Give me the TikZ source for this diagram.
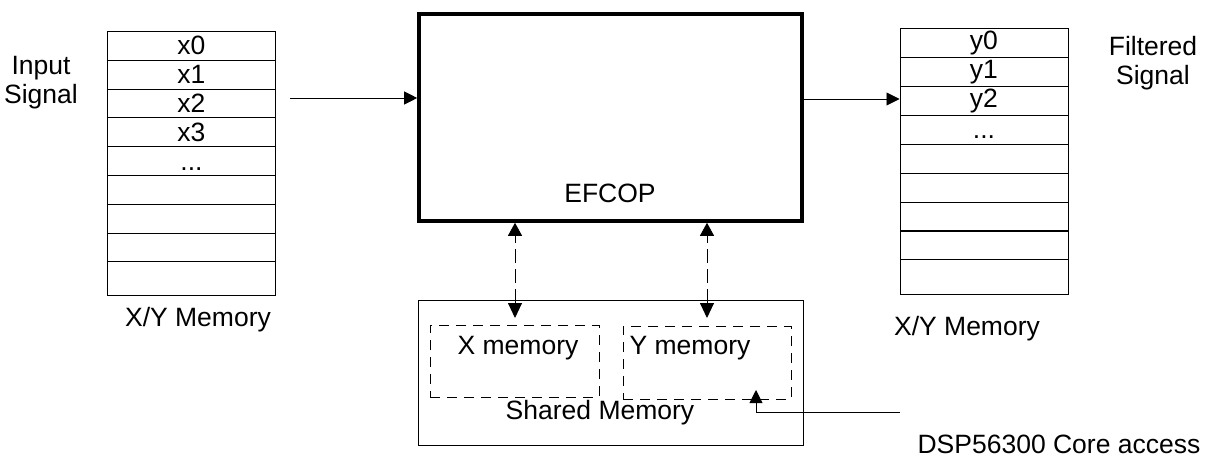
\documentclass[tikz,border=0pt]{standalone}
\usepackage{fontspec}
\setmainfont{Liberation Sans}
\usetikzlibrary{arrows.meta}
\begin{document}
\begin{tikzpicture}[x=1pt,y=-1pt,
  every node/.style={font=\fontsize{26.5}{29}\selectfont},
  cell/.style={draw, line width=0.9pt, rectangle, anchor=north west, inner sep=0pt,
    minimum width=168pt, minimum height=28.8pt, execute at begin node=\vphantom{x0}},
  lastcell/.style={cell, minimum height=34pt},
  txt/.style={inner sep=0pt},
  efbox/.style={draw, line width=3.6pt, rectangle, minimum width=383pt, minimum height=207pt, inner sep=0pt},
  shbox/.style={draw, line width=0.9pt, rectangle, minimum width=385pt, minimum height=145pt, inner sep=0pt},
  dbox/.style={draw, line width=0.9pt, dash pattern=on 10pt off 7pt, rectangle, inner sep=0pt},
  sarrow/.style={line width=0.9pt, -{Triangle[length=13pt,width=13pt]}},
  darrow/.style={line width=0.9pt, dash pattern=on 14pt off 6pt, {Triangle[length=15pt,width=14pt]}-{Triangle[length=13pt,width=14pt]}}
]
\path[use as bounding box] (0,0) rectangle (1205,457);

% left memory
\node[cell] (lm1) at (107,31) {x0};
\node[cell] (lm2) at (107,59.8) {x1};
\node[cell] (lm3) at (107,88.6) {x2};
\node[cell] (lm4) at (107,117.4) {x3};
\node[cell] (lm5) at (107,146.2) {...};
\node[cell] (lm6) at (107,175) {};
\node[cell] (lm7) at (107,203.8) {};
\node[cell] (lm8) at (107,232.6) {};
\node[lastcell] (lm9) at (107,261.4) {};

% right memory
\node[cell] (rm1) at (899.5,28.3) {y0};
\node[cell] (rm2) at (899.5,57.2) {y1};
\node[cell] (rm3) at (899.5,86.1) {y2};
\node[cell] (rm4) at (899.5,115) {...};
\node[cell] (rm5) at (899.5,143.9) {};
\node[cell] (rm6) at (899.5,172.8) {};
\node[cell] (rm7) at (899.5,201.7) {};
\node[cell] (rm8) at (899.5,230.6) {};
\node[lastcell] (rm9) at (899.5,259.5) {};

% labels
\node[txt, align=center] (insig) at (41,83) {Input\\Signal};
\node[txt, align=center] (filt) at (1153,63) {Filtered\\Signal};
\node[txt] (lmlab) at (198,320) {X/Y Memory};
\node[txt] (rmlab) at (967,329) {X/Y Memory};
\node[txt] (dsplab) at (1059,444) {DSP56300 Core access};

% EFCOP
\node[efbox] (efcop) at (610.5,117.5) {};
\node[txt] (eflab) at (610,193) {EFCOP};

% shared memory
\node[shbox] (shared) at (610.5,372.5) {};
\node[dbox, minimum width=169pt, minimum height=72pt] (xmem) at (514.5,361) {};
\node[dbox, minimum width=168pt, minimum height=73pt] (ymem) at (707,362.5) {};
\node[txt] (xmemlab) at (518,348) {X memory};
\node[txt] (ymemlab) at (690,348) {Y memory};
\node[txt] (shlab) at (600,413) {Shared Memory};

% connectors
\coordinate (insrc) at (290,98);
\draw[sarrow] (insrc) -- (efcop.west |- insrc);
\coordinate (outy) at (0,99);
\draw[sarrow] (efcop.east |- outy) -- (rm3.west |- outy);

\coordinate (xa) at (515,318);
\coordinate (ya) at (707,318);
\draw[darrow] (xa) -- (efcop.south -| xa);
\draw[darrow] (ya) -- (efcop.south -| ya);

\coordinate (dspsrc) at (900,412);
\coordinate (dsptip) at (756,390);
\draw[sarrow] (dspsrc) -| (dsptip);
\end{tikzpicture}
\end{document}
